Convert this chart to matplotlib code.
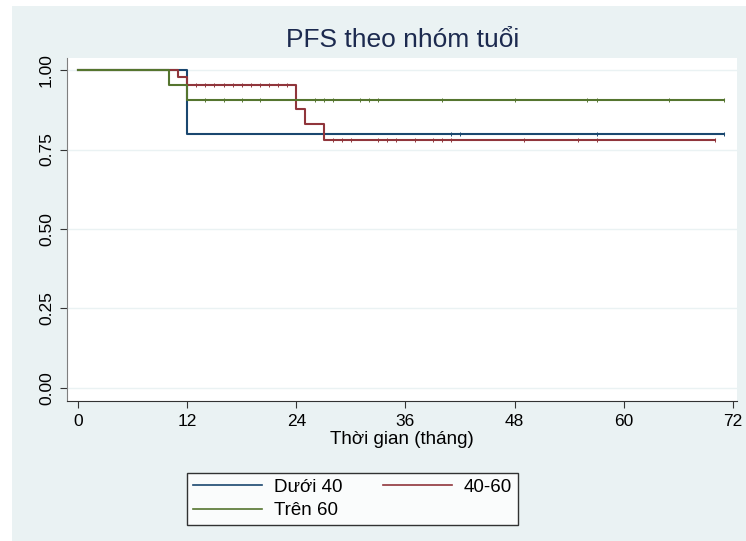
import numpy as np
import matplotlib
matplotlib.use("Agg")
import matplotlib.pyplot as plt
from matplotlib.patches import Rectangle

plt.rcParams['font.family'] = ['Liberation Sans', 'DejaVu Sans']

# Kaplan-Meier steps
labels = ['Dưới 40', '40-60', 'Trên 60']
colors = ['#1a476f', '#90353b', '#55752f']

t_duoi40 = [0, 12, 71]
s_duoi40 = [1.0, 0.80, 0.80]
c_duoi40 = [41, 42, 57, 71]

t_4060 = [0, 11, 12, 24, 25, 27, 70]
s_4060 = [1.0, 0.977, 0.953, 0.878, 0.829, 0.780, 0.780]
c_4060 = [13, 14, 15, 16, 17, 18, 19, 20, 21, 22, 23,
          28, 29, 30, 33, 34, 35, 37, 39, 40, 41, 49, 55, 57, 70]

t_tren60 = [0, 10, 12, 71]
s_tren60 = [1.0, 0.952, 0.905, 0.905]
c_tren60 = [14, 16, 18, 20, 26, 27, 28, 31, 32, 33, 40, 48, 56, 57, 65, 71]

groups = [(t_duoi40, s_duoi40, c_duoi40),
          (t_4060, s_4060, c_4060),
          (t_tren60, s_tren60, c_tren60)]

xticks = [0, 12, 24, 36, 48, 60, 72]
yticks = [0.0, 0.25, 0.5, 0.75, 1.0]

W, H = 746, 541
fig = plt.figure(figsize=(W / 100, H / 100), dpi=100)
fig.patch.set_facecolor('white')
bg = '#eaf2f3'
fig.patches.append(Rectangle((12 / W, 0), 1 - 12 / W, 1 - 6 / H,
                             transform=fig.transFigure, facecolor=bg,
                             edgecolor='none', zorder=-10))

ax = fig.add_axes([66.5 / W, (H - 401) / H, (737 - 66.5) / W, (401 - 58) / H])
ax.set_facecolor('white')

handles = []
for (t, s, c), col, lab in zip(groups, colors, labels):
    h, = ax.step(t, s, where='post', color=col, lw=1.5, label=lab, zorder=3)
    handles.append(h)
    idx = np.searchsorted(t, c, side='right') - 1
    cy = np.array(s)[idx]
    ax.plot(c, cy, ls='none', marker='|', ms=2.2, mew=0.7, color=col, zorder=4)

ax.set_xlim(-1.26, 72.44)
ax.set_ylim(-0.041, 1.038)
ax.set_xticks(xticks)
ax.set_yticks(yticks)
ax.set_yticklabels(['0.00', '0.25', '0.50', '0.75', '1.00'], rotation=90, va='center')
ax.tick_params(axis='both', labelsize=12.5, length=5, color='#333333', pad=4)
ax.grid(axis='y', color=bg, lw=1)
ax.set_axisbelow(True)
for side in ['top', 'right']:
    ax.spines[side].set_visible(False)
ax.spines['left'].set_color('#7f7f7f')
ax.spines['bottom'].set_color('#333333')
ax.set_xlabel('Thời gian (tháng)', fontsize=13.5, labelpad=2)

fig.text(403 / W, 1 - 40 / H, 'PFS theo nhóm tuổi', ha='center', va='center',
         fontsize=19, color='#1c2a4f')

# row-wise order: Dưới 40, 40-60 / Trên 60
order = [0, 2, 1]
leg = fig.legend(handles=[handles[i] for i in order],
                 labels=[labels[i] for i in order], ncol=2, loc='lower left',
                 bbox_to_anchor=(187 / W, 16 / H, (518 - 187) / W, (525 - 463) / H),
                 mode='expand', fontsize=13.5, frameon=True, fancybox=False,
                 edgecolor='black', handlelength=3.7, handletextpad=0.65,
                 borderaxespad=0, columnspacing=1.4, labelspacing=0.35,
                 borderpad=0.3)
leg.get_frame().set_linewidth(1.0)
for lh in leg.get_lines():
    lh.set_linewidth(1.2)

fig.savefig('out.png', dpi=100)
